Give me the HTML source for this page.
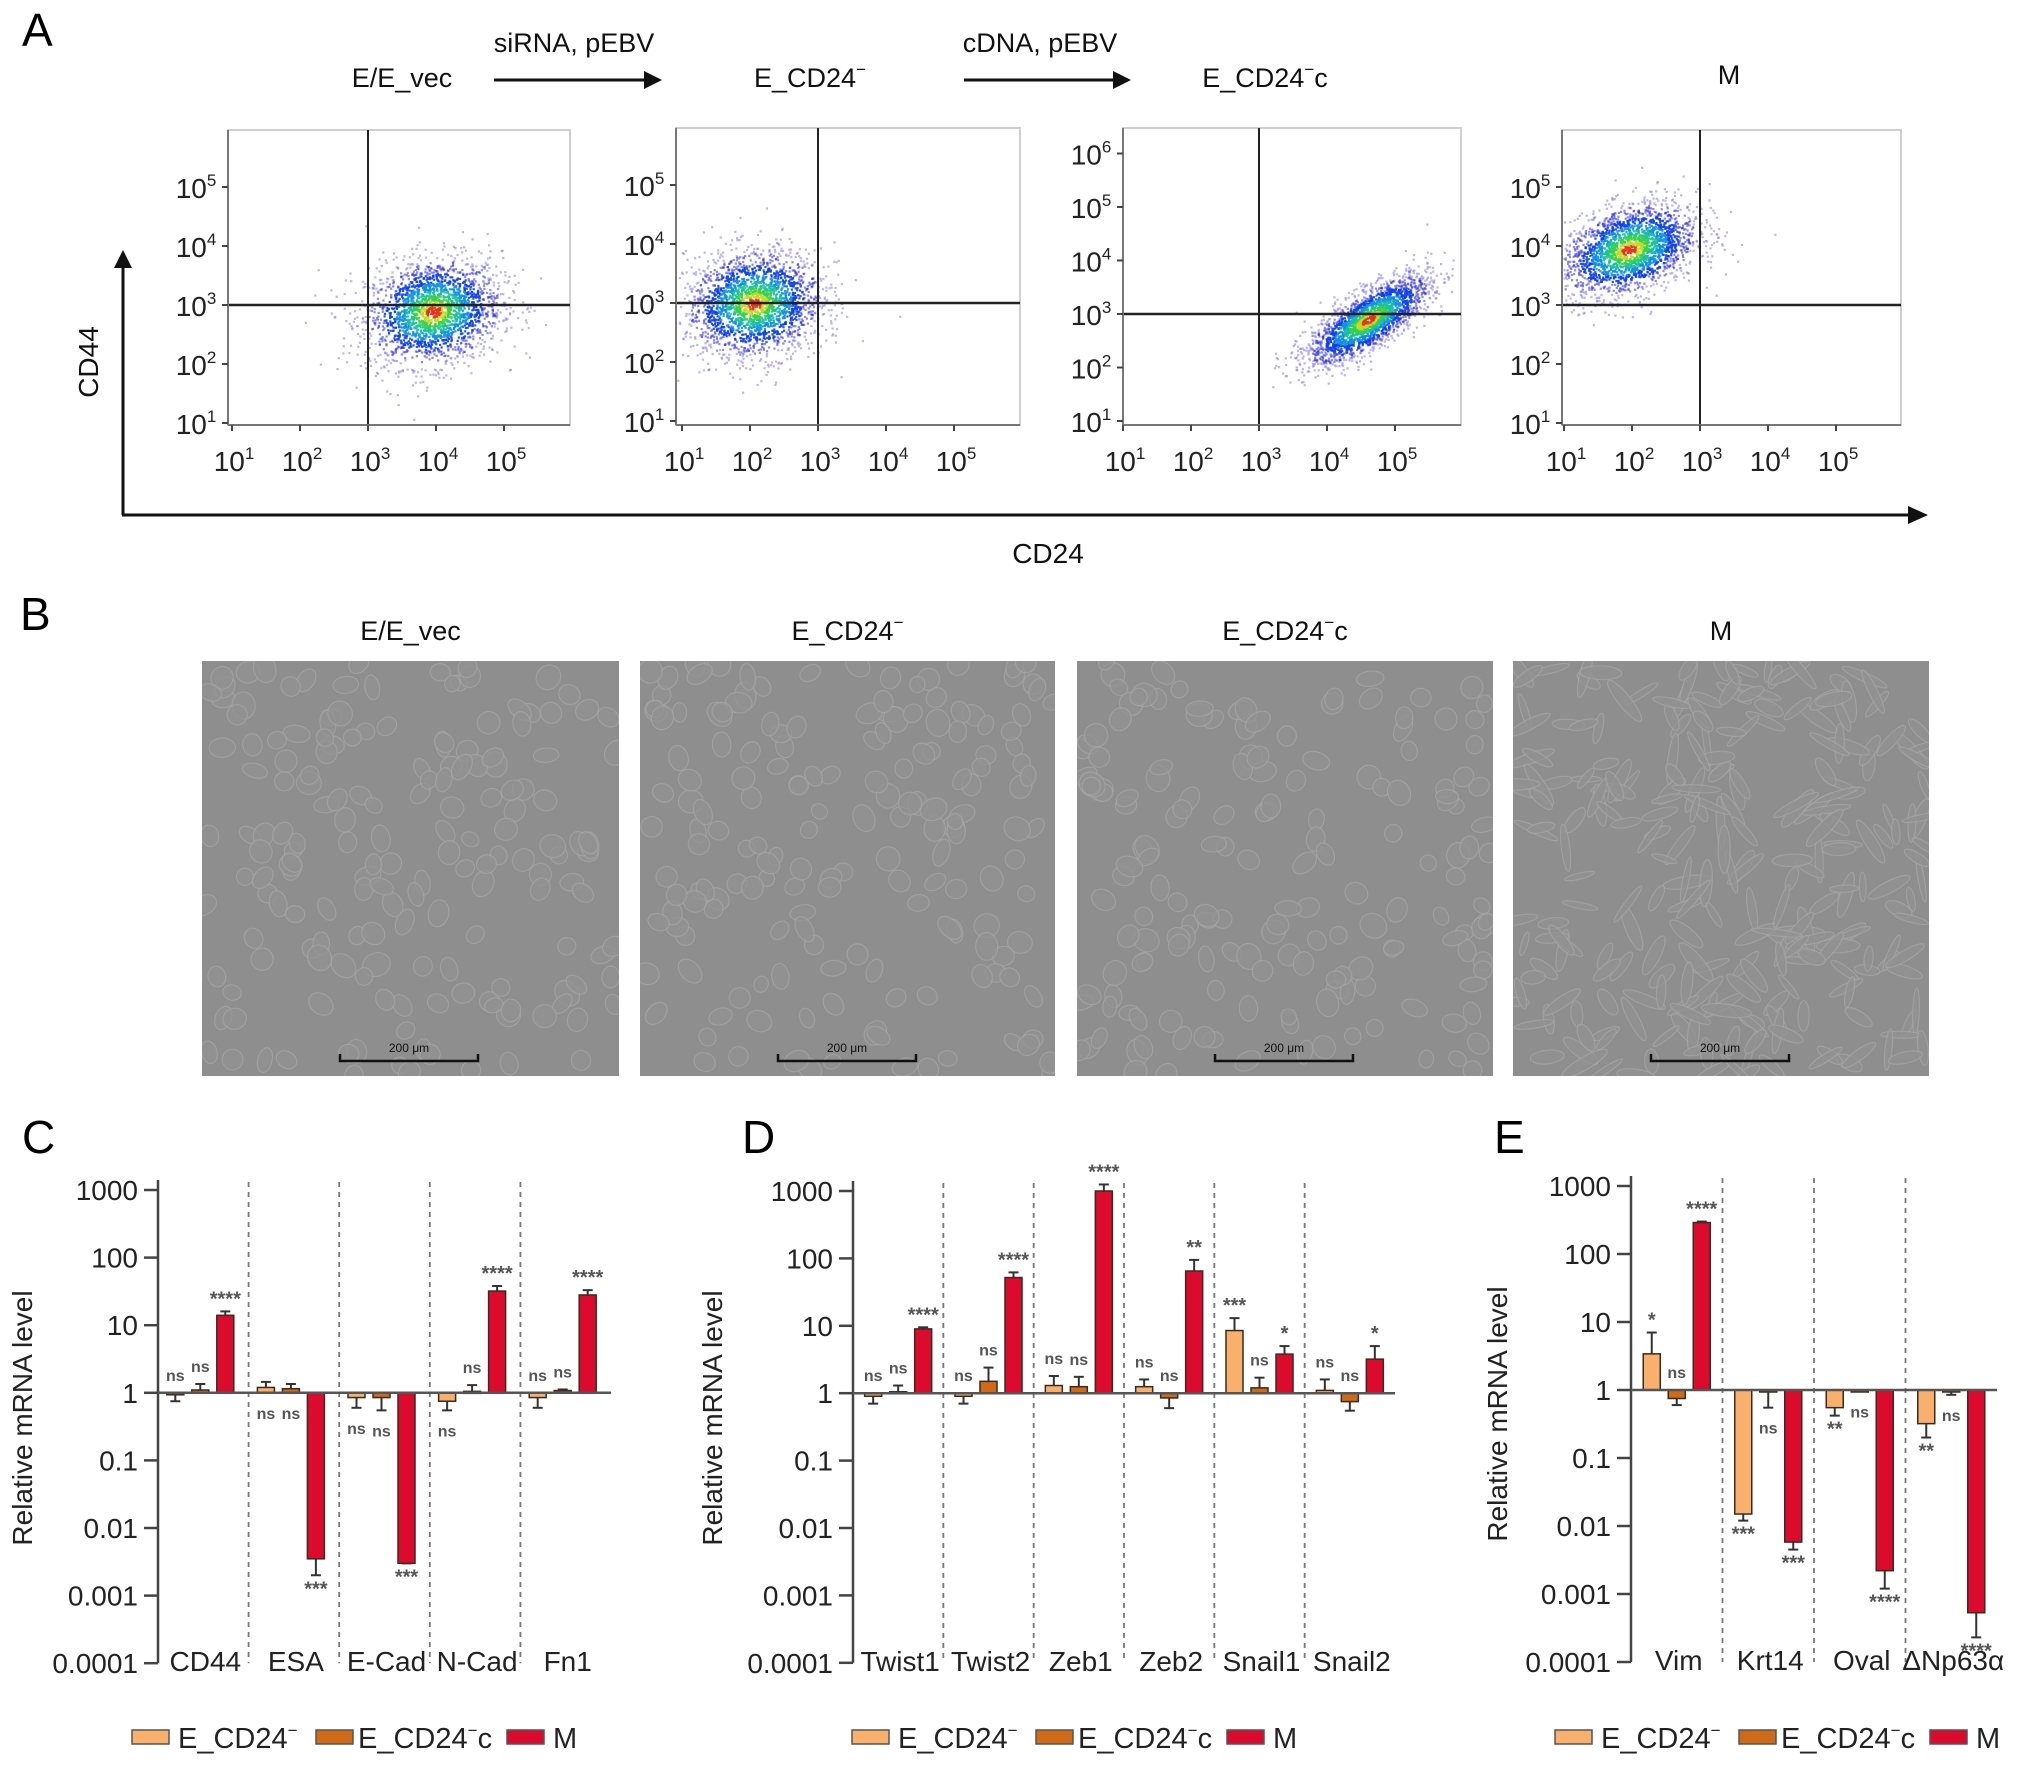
<!DOCTYPE html>
<html><head><meta charset="utf-8"><title>CD24 / EMT figure</title>
<style>
html,body{margin:0;padding:0;background:#fff;}
svg{display:block;font-family:"Liberation Sans",Arial,sans-serif;}
</style></head>
<body>
<svg id="fig" width="2032" height="1769" viewBox="0 0 2032 1769" xmlns="http://www.w3.org/2000/svg">
<defs id="defs"></defs>
<g id="panelA">
 <text x="22" y="46" font-size="46">A</text>
 <text x="402" y="87" font-size="27" text-anchor="middle" fill="#111">E/E_vec</text>
 <text x="574" y="52" font-size="27" text-anchor="middle" fill="#111">siRNA, pEBV</text>
 <line x1="494" y1="80" x2="648" y2="80" stroke="#111" stroke-width="3"/>
 <polygon points="644,71 662,80 644,89" fill="#111"/>
 <text x="810" y="87" font-size="27" text-anchor="middle" fill="#111">E_CD24<tspan font-size="17" dy="-12">−</tspan></text>
 <text x="1040" y="52" font-size="27" text-anchor="middle" fill="#111">cDNA, pEBV</text>
 <line x1="964" y1="80" x2="1117" y2="80" stroke="#111" stroke-width="3"/>
 <polygon points="1113,71 1131,80 1113,89" fill="#111"/>
 <text x="1265" y="87" font-size="27" text-anchor="middle" fill="#111">E_CD24<tspan font-size="17" dy="-12">−</tspan><tspan dy="12">c</tspan></text>
 <text x="1729" y="84" font-size="27" text-anchor="middle" fill="#111">M</text>
 <line x1="123" y1="515" x2="123" y2="265" stroke="#111" stroke-width="3"/>
 <polygon points="114,268 123,250 132,268" fill="#111"/>
 <line x1="122" y1="515" x2="1912" y2="515" stroke="#111" stroke-width="3"/>
 <polygon points="1908,506 1928,515 1908,524" fill="#111"/>
 <text x="98" y="362" font-size="28" text-anchor="middle" transform="rotate(-90 98 362)" fill="#111">CD44</text>
 <text x="1048" y="563" font-size="28" text-anchor="middle" fill="#111">CD24</text>
</g>
<g id="panelB">
 <text x="20" y="630" font-size="46">B</text>
</g>
<g id="panelC"></g>
<g id="panelD"></g>
<g id="panelE"></g>
</svg>
<script>
// ---------- bar chart data ----------
const catsC = ["CD44","ESA","E-Cad","N-Cad","Fn1"];
const lightC = [0.95,1.2,0.85,0.75,0.85];
const lightErrC = [0.75,1.45,0.6,0.55,0.6];
const midC = [1.1,1.15,0.85,1.05,1.08];
const midErrC = [1.35,1.35,0.55,1.3,1.12];
const redC = [14,0.0035,0.003,32,28];
const redErrC = [16,0.002,0.003,38,33];
const sigLightC = ["ns","ns","ns","ns","ns"];
const sigMidC = ["ns","ns","ns","ns","ns"];
const sigRedC = ["****","***","***","****","****"];

const catsD = ["Twist1","Twist2","Zeb1","Zeb2","Snail1","Snail2"];
const lightD = [0.9,0.9,1.3,1.25,8.5,1.1];
const lightErrD = [0.7,0.7,1.8,1.6,13,1.6];
const midD = [1.05,1.5,1.25,0.85,1.2,0.75];
const midErrD = [1.3,2.4,1.75,0.6,1.7,0.55];
const redD = [9,52,1000,65,3.8,3.2];
const redErrD = [9.5,62,1250,95,5,5];
const sigLightD = ["ns","ns","ns","ns","***","ns"];
const sigMidD = ["ns","ns","ns","ns","ns","ns"];
const sigRedD = ["****","****","****","**","*","*"];

const catsE = ["Vim","Krt14","Oval","ΔNp63α"];
const lightE = [3.4,0.015,0.55,0.32];
const lightErrE = [7,0.012,0.42,0.2];
const midE = [0.75,0.95,0.97,0.95];
const midErrE = [0.6,0.55,0.95,0.85];
const redE = [290,0.0058,0.0022,0.00053];
const redErrE = [300,0.0045,0.0012,0.00023];
const sigLightE = ["*","***","**","**"];
const sigMidE = ["ns","ns","ns","ns"];
const sigRedE = ["****","***","****","****"];

const tickVals = [1000,100,10,1,0.1,0.01,0.001,0.0001];
const tickLabels = ["1000","100","10","1","0.1","0.01","0.001","0.0001"];

const COLS = ["#f8b06c","#cf6a16","#dc0a2c"];
const NS = "http://www.w3.org/2000/svg";
function mk(tag, attrs, parent){const e=document.createElementNS(NS,tag);for(const k in attrs)e.setAttribute(k,attrs[k]);if(parent)parent.appendChild(e);return e;}

function barPanel(gid, cfg, cats, vals, errs, sigs, sigPos){
  const g=document.getElementById(gid);
  const yS=v=>cfg.y1000+(3-Math.log10(v))*cfg.dec;
  const yBot=yS(0.0001), yOne=yS(1);
  const gw=(cfg.xEnd-cfg.ax)/cats.length;
  let t=mk('text',{x:cfg.labX,y:cfg.labY,'font-size':46},g);t.textContent=cfg.letter;
  
  let a=mk('line',{x1:cfg.ax,y1:yS(1000)-10,x2:cfg.ax,y2:yBot,stroke:'#444','stroke-width':2.5},g);
  
  tickVals.forEach((v,i)=>{
    const y=yS(v);
    const tk=mk('line',{x1:cfg.ax-14,y1:y,x2:cfg.ax,y2:y,stroke:'#444','stroke-width':2.5},g);
    
    const tl=mk('text',{x:cfg.ax-20,y:y+10,'font-size':28,'text-anchor':'end',fill:'#222'},g);
    tl.textContent=tickLabels[i];
    
  });
  const yl=mk('text',{x:cfg.ylX,y:cfg.ylY,'font-size':28,'text-anchor':'middle',fill:'#222',transform:`rotate(-90 ${cfg.ylX} ${cfg.ylY})`},g);
  yl.textContent='Relative mRNA level';
  
  for(let i=1;i<cats.length;i++){
    const x=cfg.ax+gw*i;
    const s=mk('line',{x1:x,y1:yS(1000)-8,x2:x,y2:yBot,stroke:'#777','stroke-width':1.8,'stroke-dasharray':'5,5'},g);
    
  }
  const offs=[-25,0,25], bw=17;
  cats.forEach((c,ci)=>{
    const cx=cfg.ax+gw*(ci+0.5)+cfg.shift;
    const cl=mk('text',{x:cfg.ax+gw*(ci+0.5)+2,y:yBot+8,'font-size':28,'text-anchor':'middle',fill:'#222'},g);
    cl.textContent=c;
    
    for(let s=0;s<3;s++){
      const v=vals[s][ci], e=errs[s][ci];
      const x=cx+offs[s];
      const yv=yS(v);
      const top=Math.min(yv,yOne), h=Math.max(Math.abs(yv-yOne),2);
      const ey=yS(e);
      const el=mk('line',{x1:x,y1:yv,x2:x,y2:ey,stroke:'#333','stroke-width':2},g);
      
      const ec=mk('line',{x1:x-5,y1:ey,x2:x+5,y2:ey,stroke:'#333','stroke-width':2},g);
      
      const r=mk('rect',{x:x-bw/2,y:top,width:bw,height:h,fill:COLS[s],stroke:'#3a2a20','stroke-width':1.5},g);
      
      const lab=sigs[s][ci]; const pos=sigPos[s][ci];
      const star=lab.indexOf('*')>=0;
      let ty;
      if(pos==='u'){ty=Math.min(yOne,yv,ey)-(star?6:12);} else {ty=Math.max(yOne,yv,ey)+(star?20:26);}
      const st=mk('text',{x:x,y:ty,'font-size':star?20:16,'text-anchor':'middle',fill:'#555','font-weight':'bold'},g);
      st.textContent=lab;
      
    }
  });
  const base=mk('line',{x1:cfg.ax,y1:yOne,x2:cfg.xEnd,y2:yOne,stroke:'#555','stroke-width':2.5},g);
  
  const lx=cfg.legX, ly=1737;
  const legNames=[["E_CD24","−",""],["E_CD24","−","c"],["M","",""]];
  const sx=[0,184,375], tx=[46,226,421];
  for(let s=0;s<3;s++){
    const sw=mk('rect',{x:lx+sx[s],y:ly-7,width:37,height:14,fill:COLS[s],stroke:'#555','stroke-width':1.5},g);
    
    const lt=mk('text',{x:lx+tx[s],y:ly+11,'font-size':29,fill:'#222'},g);
    
    lt.appendChild(document.createTextNode(legNames[s][0]));
    if(legNames[s][1]){const sp=mk('tspan',{'font-size':17,dy:-12},lt);sp.textContent=legNames[s][1];}
    if(legNames[s][2]){const sp=mk('tspan',{dy:12},lt);sp.textContent=legNames[s][2];}
  }
}
barPanel('panelC',{ax:158,xEnd:611,y1000:1190,dec:67.6,letter:'C',labX:22,labY:1153,ylX:32,ylY:1418,legX:132,shift:-3},
  catsC,[lightC,midC,redC],[lightErrC,midErrC,redErrC],[sigLightC,sigMidC,sigRedC],
  [['u','d','d','d','u'],['u','d','d','u','u'],['u','d','d','u','u']]);
barPanel('panelD',{ax:853,xEnd:1395,y1000:1191,dec:67.4,letter:'D',labX:742,labY:1153,ylX:722,ylY:1418,legX:852,shift:0},
  catsD,[lightD,midD,redD],[lightErrD,midErrD,redErrD],[sigLightD,sigMidD,sigRedD],
  [['u','u','u','u','u','u'],['u','u','u','u','u','u'],['u','u','u','u','u','u']]);
barPanel('panelE',{ax:1631,xEnd:1997,y1000:1186,dec:68,letter:'E',labX:1494,labY:1153,ylX:1507,ylY:1414,legX:1555,shift:0},
  catsE,[lightE,midE,redE],[lightErrE,midErrE,redErrE],[sigLightE,sigMidE,sigRedE],
  [['u','d','d','d'],['u','d','d','d'],['u','d','d','d']]);

// ---------- flow cytometry plots ----------
let seed=12345;
function rnd(){seed=(seed*1103515245+12345)%2147483648;return seed/2147483648;}
function gauss(){let u=rnd()||1e-9,v=rnd();return Math.sqrt(-2*Math.log(u))*Math.cos(2*Math.PI*v);}
const flowPlots=[
 {x0:228,x1:570,y0:130,y1:425,vx:368,hy:305,ydec:59,yTicks:[1,2,3,4,5],cx:3.95,cy:2.9,sx:0.5,sy:0.45,rho:0.15},
 {x0:676,x1:1020,y0:128,y1:425,vx:818,hy:303,ydec:59,yTicks:[1,2,3,4,5],cx:2.05,cy:3.0,sx:0.5,sy:0.45,rho:0.1},
 {x0:1123,x1:1461,y0:128,y1:425,vx:1259,hy:314,ydec:53.5,yTicks:[1,2,3,4,5,6],cx:4.6,cy:2.9,sx:0.45,sy:0.42,rho:0.75},
 {x0:1562,x1:1901,y0:130,y1:425,vx:1700,hy:305,ydec:59,yTicks:[1,2,3,4,5],cx:1.95,cy:3.95,sx:0.5,sy:0.4,rho:0.35}
];
const A=document.getElementById('panelA');
const dens=['#e8301a','#c8d820','#38d048','#18c0a0','#1090e0','#1040e8','#2828e0','#8078f0'];
const thr=[0.22,0.4,0.6,0.82,1.1,1.45,1.9];
flowPlots.forEach((p,pi)=>{
  const g=mk('g',{},A);
  
  const fr=mk('rect',{x:p.x0,y:p.y0,width:p.x1-p.x0,height:p.y1-p.y0,fill:'#fff',stroke:'#cfcfcf','stroke-width':2},g);
  
  const X=l=>p.vx+(l-3)*68, Y=l=>p.hy-(l-3)*p.ydec;
  const N=2200;
  const pts=[];
  for(let i=0;i<N;i++){
    const a=gauss(), b=gauss();
    const dx=a*p.sx, dy=(p.rho*a+Math.sqrt(1-p.rho*p.rho)*b)*p.sy;
    const px=X(p.cx+dx), py=Y(p.cy+dy);
    if(px<p.x0+1||px>p.x1-1||py<p.y0+1||py>p.y1-1) continue;
    const r=Math.sqrt(a*a+b*b);
    let k=0; while(k<7&&r>thr[k])k++;
    pts.push([px,py,k]);
  }
  pts.sort((u,v)=>v[2]-u[2]);
  pts.forEach(q=>{
    const d=mk('rect',{x:q[0].toFixed(1),y:q[1].toFixed(1),width:2.2,height:2.2,fill:dens[q[2]],opacity:q[2]>5?0.55:0.9},g);
    
  });
  const v=mk('line',{x1:p.vx,y1:p.y0,x2:p.vx,y2:p.y1,stroke:'#222','stroke-width':2},g);
  
  const h=mk('line',{x1:p.x0,y1:p.hy,x2:p.x1,y2:p.hy,stroke:'#222','stroke-width':2.5},g);
  
  const ax=mk('line',{x1:p.x0,y1:p.y1,x2:p.x1,y2:p.y1,stroke:'#777','stroke-width':2},g);
  
  const ay=mk('line',{x1:p.x0,y1:p.y0,x2:p.x0,y2:p.y1,stroke:'#777','stroke-width':2},g);
  
  p.yTicks.forEach(l=>{
    const y=Y(l);
    const tk=mk('line',{x1:p.x0-6,y1:y,x2:p.x0,y2:y,stroke:'#444','stroke-width':2},g);
    
    const t=mk('text',{x:p.x0-32,y:y+11,'font-size':28,'text-anchor':'middle',fill:'#222'},g);
    
    t.appendChild(document.createTextNode('10'));
    const s=mk('tspan',{'font-size':17,dy:-12},t);s.textContent=String(l);
  });
  [1,2,3,4,5].forEach(l=>{
    const x=X(l);
    const tk=mk('line',{x1:x,y1:p.y1,x2:x,y2:p.y1+6,stroke:'#444','stroke-width':2},g);
    
    const t=mk('text',{x:x+2,y:p.y1+46,'font-size':28,'text-anchor':'middle',fill:'#222'},g);
    
    t.appendChild(document.createTextNode('10'));
    const s=mk('tspan',{'font-size':17,dy:-12},t);s.textContent=String(l);
  });
});

// ---------- panel B micrographs ----------
const B=document.getElementById('panelB');
const defs=document.getElementById('defs');
const imgs=[[202,619,'E/E_vec',''],[640,1055,'E_CD24','−'],[1077,1493,'E_CD24','−c'],[1513,1929,'M','']];
imgs.forEach((im,ii)=>{
  const cp=mk('clipPath',{id:'clip'+ii},defs);
  mk('rect',{x:im[0],y:661,width:im[1]-im[0],height:415},cp);
  const g=mk('g',{},B);
  
  const cx=(im[0]+im[1])/2;
  const t=mk('text',{x:cx,y:640,'font-size':27,'text-anchor':'middle',fill:'#111'},g);
  
  t.appendChild(document.createTextNode(im[2]));
  if(im[3]){const s=mk('tspan',{'font-size':17,dy:-12},t);s.textContent='−';if(im[3]==='−c'){const s2=mk('tspan',{dy:12},t);s2.textContent='c';}}
  const inner=mk('g',{'clip-path':`url(#clip${ii})`},g);
  const r=mk('rect',{x:im[0],y:661,width:im[1]-im[0],height:415,fill:'#8e8e8e'},inner);
  
  const n=ii===3?260:170;
  for(let i=0;i<n;i++){
    let x=im[0]+rnd()*(im[1]-im[0]), y=661+rnd()*415;
    const c=mk('ellipse',{cx:x.toFixed(1),cy:y.toFixed(1),rx:(ii===3?3+rnd()*4:8+rnd()*6).toFixed(1),ry:(ii===3?12+rnd()*14:7+rnd()*5).toFixed(1),
      transform:`rotate(${(rnd()*180).toFixed(0)} ${x.toFixed(1)} ${y.toFixed(1)})`,fill:'#929292',stroke:'#a6a6a6','stroke-width':1.2,opacity:0.75},inner);
    
  }
  const sb=mk('path',{d:`M${im[0]+138},1054 L${im[0]+138},1061 L${im[0]+276},1061 L${im[0]+276},1054`,fill:'none',stroke:'#111','stroke-width':2.5},g);
  
  const st=mk('text',{x:im[0]+207,y:1052,'font-size':12,'text-anchor':'middle',fill:'#111'},g);
  st.textContent='200 μm';
  
});
</script>
</body></html>
